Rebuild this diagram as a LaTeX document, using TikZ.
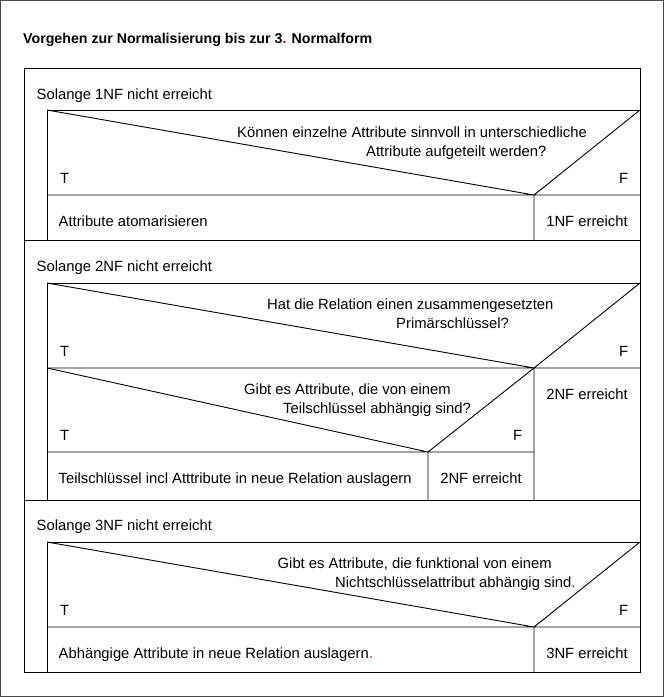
\documentclass[tikz,border=0pt]{standalone}
\usepackage{fontspec}
\setmainfont{Liberation Sans}
\usepackage{tikz}
\usepackage{xcolor}
\definecolor{nsframe}{HTML}{4A4A4A}
\definecolor{nsred}{HTML}{C00000}

\begin{document}
\begin{tikzpicture}[x=1pt,y=-1pt,font=\fontsize{14.8}{17}\selectfont,
txt/.style={inner sep=0pt,anchor=base west},
mid/.style={inner sep=0pt,anchor=base},
title/.style={inner sep=0pt,anchor=base west,font=\bfseries\fontsize{14.2}{17}\selectfont},
rule/.style={line width=0.9pt}]
\useasboundingbox (0,0) rectangle (664,697);
\draw[draw=nsframe,line width=1.4pt] (0.7,0.7) rectangle (663.3,696.3);
\node[title] (head) at (23,43) {Vorgehen zur Normalisierung bis zur 3{\color{nsred}.} Normalform};
\draw[rule] (24,68) rectangle (640,672);
\draw[rule] (47,110)--(640,110) (47,110)--(47,240) (24,240)--(640,240);
\draw[rule] (47,110)--(534,195)--(640,110) (47,195)--(640,195) (534,195)--(534,240);
\node[txt] (w1) at (36.5,99) {Solange 1NF nicht erreicht};
\node[txt] (q1a) at (237,137) {Können einzelne Attribute sinnvoll in unterschiedliche};
\node[txt] (q1b) at (366,156) {Attribute aufgeteilt werden?};
\node[txt] (t1) at (60,183) {T};
\node[txt] (f1) at (619,183) {F};
\node[txt] (a1) at (58.5,226) {Attribute atomarisieren};
\node[mid] (e1) at (587,226) {1NF erreicht};
\draw[rule] (47,283)--(640,283) (47,283)--(47,500) (24,500)--(640,500);
\draw[rule] (47,283)--(534,368)--(640,283) (47,368)--(640,368) (534,368)--(534,500);
\draw[rule] (47,368)--(428,452)--(534,368) (47,452)--(534,452) (428,452)--(428,500);
\node[txt] (w2) at (36.5,271) {Solange 2NF nicht erreicht};
\node[txt] (q2a) at (267,309) {Hat die Relation einen zusammengesetzten};
\node[txt] (q2b) at (396,328) {Primärschlüssel?};
\node[txt] (t2) at (60,356) {T};
\node[txt] (f2) at (619,356) {F};
\node[mid] (e2) at (587,399) {2NF erreicht};
\node[txt] (q3a) at (244,394) {Gibt es Attribute, die von einem};
\node[txt] (q3b) at (283,413) {Teilschlüssel abhängig sind?};
\node[txt] (t3) at (60,440) {T};
\node[txt] (f3) at (513,440) {F};
\node[txt] (a3) at (58.5,483) {Teilschlüssel incl Atttribute in neue Relation auslagern};
\node[mid] (e3) at (481,483) {2NF erreicht};
\draw[rule] (47,542)--(640,542) (47,542)--(47,672);
\draw[rule] (47,542)--(534,627)--(640,542) (47,627)--(640,627) (534,627)--(534,672);
\node[txt] (w4) at (36.5,530) {Solange 3NF nicht erreicht};
\node[txt] (q4a) at (277.5,568) {Gibt es Attribute, die funktional von einem};
\node[txt] (q4b) at (335,587) {Nichtschlüsselattribut abhängig sind{\color{nsred}.}};
\node[txt] (t4) at (60,615) {T};
\node[txt] (f4) at (619,615) {F};
\node[txt] (a4) at (58.5,658) {Abhängige Attribute in neue Relation auslagern{\color{nsred}.}};
\node[mid] (e4) at (587,658) {3NF erreicht};
\end{tikzpicture}
\end{document}
